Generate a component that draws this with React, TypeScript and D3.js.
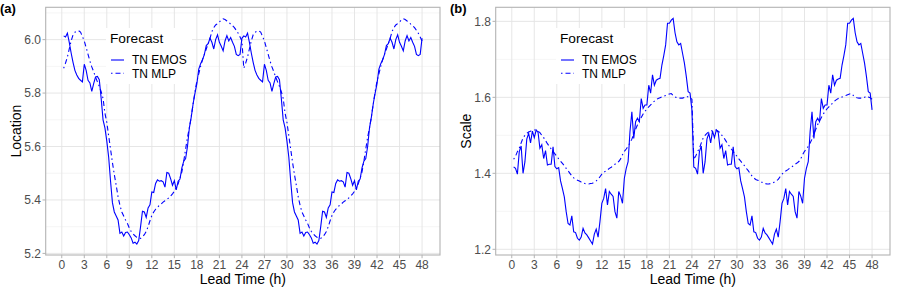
import React from "react";
import * as d3 from "d3";

// Lead times (h) of one day at 15-minute resolution: 0.25 ... 24
const leadTimesDay1: number[] = d3.range(1, 97).map((k) => k * 0.25);
const leadTimes: number[] = [...leadTimesDay1, ...leadTimesDay1.map((h) => h + 24)];

const xTicks: number[] = [0, 3, 6, 9, 12, 15, 18, 21, 24, 27, 30, 33, 36, 39, 42, 45, 48];
const xTickLabels: string[] = xTicks.map(String);

const seriesNames: string[] = ["TN EMOS", "TN MLP"];

// (a) Location, one day (the 24 h pattern repeats on day 2)
const emosLocationDay: number[] = [
  6.014, 6.010, 6.024, 5.990, 5.950, 5.915, 5.885, 5.868, 5.855, 5.848, 5.842, 5.908,
  5.885, 5.848, 5.838, 5.806, 5.835, 5.860, 5.862, 5.850, 5.780, 5.700, 5.670, 5.620,
  5.560, 5.470, 5.390, 5.355, 5.340, 5.325, 5.275, 5.280, 5.265, 5.278, 5.280, 5.270,
  5.258, 5.238, 5.242, 5.235, 5.248, 5.300, 5.358, 5.355, 5.335, 5.370, 5.382, 5.430,
  5.428, 5.462, 5.475, 5.470, 5.472, 5.468, 5.448, 5.503, 5.500, 5.480, 5.455, 5.472,
  5.438, 5.470, 5.478, 5.520, 5.545, 5.555, 5.600, 5.670, 5.710, 5.760, 5.800, 5.835,
  5.890, 5.910, 5.925, 5.945, 5.978, 5.985, 6.005, 5.990, 5.965, 6.000, 6.018, 5.990,
  5.975, 5.958, 5.995, 6.015, 5.995, 6.008, 5.990, 5.975, 5.945, 5.940, 5.945, 6.005,
];
const mlpLocationDay: number[] = [
  5.893, 5.912, 5.935, 5.965, 5.995, 6.018, 6.028, 6.031, 6.033, 6.028, 6.012, 5.995,
  5.970, 5.945, 5.920, 5.898, 5.880, 5.860, 5.842, 5.825, 5.805, 5.780, 5.725, 5.690,
  5.640, 5.590, 5.540, 5.495, 5.455, 5.412, 5.380, 5.355, 5.340, 5.325, 5.312, 5.295,
  5.282, 5.273, 5.266, 5.260, 5.257, 5.256, 5.262, 5.270, 5.282, 5.300, 5.322, 5.342,
  5.355, 5.365, 5.372, 5.380, 5.385, 5.392, 5.397, 5.401, 5.408, 5.415, 5.423, 5.432,
  5.445, 5.460, 5.482, 5.505, 5.545, 5.590, 5.635, 5.670, 5.712, 5.760, 5.805, 5.845,
  5.872, 5.900, 5.925, 5.945, 5.965, 5.985, 6.005, 6.030, 6.045, 6.055, 6.060, 6.066,
  6.074, 6.078, 6.075, 6.070, 6.065, 6.058, 6.052, 6.045, 6.035, 6.024, 6.010, 5.995,
];

// (b) Scale, one day
const emosScaleDay: number[] = [
  1.417, 1.413, 1.398, 1.457, 1.472, 1.400, 1.430, 1.490, 1.505, 1.480, 1.511, 1.494,
  1.514, 1.508, 1.466, 1.475, 1.439, 1.460, 1.422, 1.424, 1.424, 1.470, 1.418, 1.412,
  1.415, 1.380, 1.360, 1.338, 1.299, 1.268, 1.264, 1.288, 1.246, 1.244, 1.229, 1.224,
  1.232, 1.255, 1.243, 1.238, 1.230, 1.222, 1.214, 1.240, 1.253, 1.232, 1.273, 1.321,
  1.334, 1.360, 1.317, 1.352, 1.345, 1.339, 1.299, 1.282, 1.352, 1.340, 1.321, 1.387,
  1.413, 1.431, 1.510, 1.562, 1.492, 1.536, 1.545, 1.536, 1.597, 1.571, 1.580, 1.580,
  1.632, 1.611, 1.659, 1.632, 1.645, 1.648, 1.650, 1.685, 1.710, 1.738, 1.795, 1.795,
  1.803, 1.808, 1.770, 1.746, 1.738, 1.742, 1.716, 1.690, 1.655, 1.615, 1.611, 1.567,
];
const mlpScaleDay: number[] = [
  1.437, 1.445, 1.457, 1.466, 1.480, 1.493, 1.500, 1.505, 1.509, 1.511, 1.513, 1.514,
  1.514, 1.511, 1.507, 1.500, 1.494, 1.486, 1.478, 1.471, 1.464, 1.458, 1.451, 1.445,
  1.438, 1.432, 1.426, 1.420, 1.413, 1.407, 1.400, 1.393, 1.388, 1.384, 1.382, 1.380,
  1.377, 1.375, 1.373, 1.372, 1.372, 1.373, 1.374, 1.377, 1.380, 1.384, 1.391, 1.398,
  1.402, 1.406, 1.409, 1.413, 1.416, 1.420, 1.424, 1.427, 1.431, 1.438, 1.449, 1.458,
  1.464, 1.471, 1.480, 1.490, 1.503, 1.516, 1.528, 1.538, 1.547, 1.556, 1.563, 1.570,
  1.575, 1.580, 1.585, 1.590, 1.594, 1.597, 1.599, 1.601, 1.603, 1.605, 1.607, 1.609,
  1.610, 1.605, 1.601, 1.599, 1.598, 1.598, 1.598, 1.600, 1.603, 1.601, 1.599, 1.595,
];

const emosLocation: number[] = [...emosLocationDay, ...emosLocationDay];
const mlpLocation: number[] = [...mlpLocationDay, ...mlpLocationDay];
const emosScale: number[] = [...emosScaleDay, ...emosScaleDay];
const mlpScale: number[] = [...mlpScaleDay, ...mlpScaleDay];

const locationTicks: number[] = [5.2, 5.4, 5.6, 5.8, 6.0];
const locationMinor: number[] = [5.3, 5.5, 5.7, 5.9, 6.1];
const scaleTicks: number[] = [1.2, 1.4, 1.6, 1.8];
const scaleMinor: number[] = [1.3, 1.5, 1.7];

const FONT = "'Liberation Sans', Arial, Helvetica, sans-serif";
const LINE_COLOR = "#0000FF";
const DOTDASH = "1.5 3 5 3";

type PanelProps = {
  ox: number;
  label: string;
  yTitle: string;
  yDomain: [number, number];
  yTicks: number[];
  yMinor: number[];
  emos: number[];
  mlp: number[];
};

function Panel({ ox, label, yTitle, yDomain, yTicks, yMinor, emos, mlp }: PanelProps) {
  const left = ox + 45.7;
  const right = ox + 440;
  const top = 7.3;
  const bottom = 255;
  const x = d3.scaleLinear().domain([-2.14, 50.39]).range([left, right]);
  const y = d3.scaleLinear().domain(yDomain).range([bottom, top]);
  const line = d3
    .line<number>()
    .x((_, i) => x(leadTimes[i]))
    .y((d) => y(d));
  const lgX = ox + 106;
  const lgY = 28;
  return (
    <g>
      <text x={ox + 0} y={13} fontFamily={FONT} fontWeight="bold" fontSize={13} fill="#000">
        {label}
      </text>
      {/* grid */}
      {yMinor.map((v) => (
        <line key={"mi" + v} x1={left} x2={right} y1={y(v)} y2={y(v)} stroke="#EEEEEE" strokeWidth={0.6} />
      ))}
      {yTicks.map((v) => (
        <line key={"ma" + v} x1={left} x2={right} y1={y(v)} y2={y(v)} stroke="#E3E3E3" strokeWidth={0.9} />
      ))}
      {xTicks.map((h) => (
        <line key={"vx" + h} x1={x(h)} x2={x(h)} y1={top} y2={bottom} stroke="#E3E3E3" strokeWidth={0.9} />
      ))}
      {/* series */}
      <path d={line(mlp) || ""} fill="none" stroke={LINE_COLOR} strokeWidth={1.1} strokeDasharray={DOTDASH} />
      <path d={line(emos) || ""} fill="none" stroke={LINE_COLOR} strokeWidth={1.1} />
      {/* border */}
      <rect x={left} y={top} width={right - left} height={bottom - top} fill="none" stroke="#B3B3B3" strokeWidth={1.1} />
      {/* y axis */}
      {yTicks.map((v) => (
        <g key={"yt" + v}>
          <line x1={left - 3.2} x2={left} y1={y(v)} y2={y(v)} stroke="#B3B3B3" strokeWidth={1} />
          <text x={left - 4.7} y={y(v) + 4.3} textAnchor="end" fontFamily={FONT} fontSize={12} fill="#4D4D4D">
            {v.toFixed(1)}
          </text>
        </g>
      ))}
      {/* x axis */}
      {xTicks.map((h, i) => (
        <g key={"xt" + h}>
          <line x1={x(h)} x2={x(h)} y1={bottom} y2={bottom + 3.2} stroke="#B3B3B3" strokeWidth={1} />
          <text x={x(h)} y={268.8} textAnchor="middle" fontFamily={FONT} fontSize={12} fill="#4D4D4D">
            {xTickLabels[i]}
          </text>
        </g>
      ))}
      <text x={(left + right) / 2} y={284} textAnchor="middle" fontFamily={FONT} fontSize={14} fill="#000">
        Lead Time (h)
      </text>
      <text
        transform={`translate(${ox + 20.5},${(top + bottom) / 2}) rotate(-90)`}
        textAnchor="middle"
        fontFamily={FONT}
        fontSize={14}
        fill="#000"
      >
        {yTitle}
      </text>
      {/* legend */}
      <rect x={lgX} y={lgY} width={86} height={56} fill="#FFFFFF" />
      <text x={lgX + 4} y={43.3} fontFamily={FONT} fontSize={13.7} fill="#000">
        Forecast
      </text>
      <line x1={lgX + 5} x2={lgX + 18} y1={60} y2={60} stroke={LINE_COLOR} strokeWidth={1.1} />
      <line x1={lgX + 5} x2={lgX + 18} y1={73.3} y2={73.3} stroke={LINE_COLOR} strokeWidth={1.1} strokeDasharray={DOTDASH} />
      <text x={lgX + 26} y={64.2} fontFamily={FONT} fontSize={12} fill="#000">
        {seriesNames[0]}
      </text>
      <text x={lgX + 26} y={77.5} fontFamily={FONT} fontSize={12} fill="#000">
        {seriesNames[1]}
      </text>
    </g>
  );
}

export default function App() {
  return (
    <svg
      width={899}
      height={295}
      viewBox="0 0 899 295"
      style={{ position: "absolute", left: 0, top: 0, background: "#fff" }}
    >
      <rect x={0} y={0} width={899} height={295} fill="#fff" />
      <Panel
        ox={0}
        label="(a)"
        yTitle="Location"
        yDomain={[5.194, 6.121]}
        yTicks={locationTicks}
        yMinor={locationMinor}
        emos={emosLocation}
        mlp={mlpLocation}
      />
      <Panel
        ox={450}
        label="(b)"
        yTitle="Scale"
        yDomain={[1.185, 1.837]}
        yTicks={scaleTicks}
        yMinor={scaleMinor}
        emos={emosScale}
        mlp={mlpScale}
      />
    </svg>
  );
}
